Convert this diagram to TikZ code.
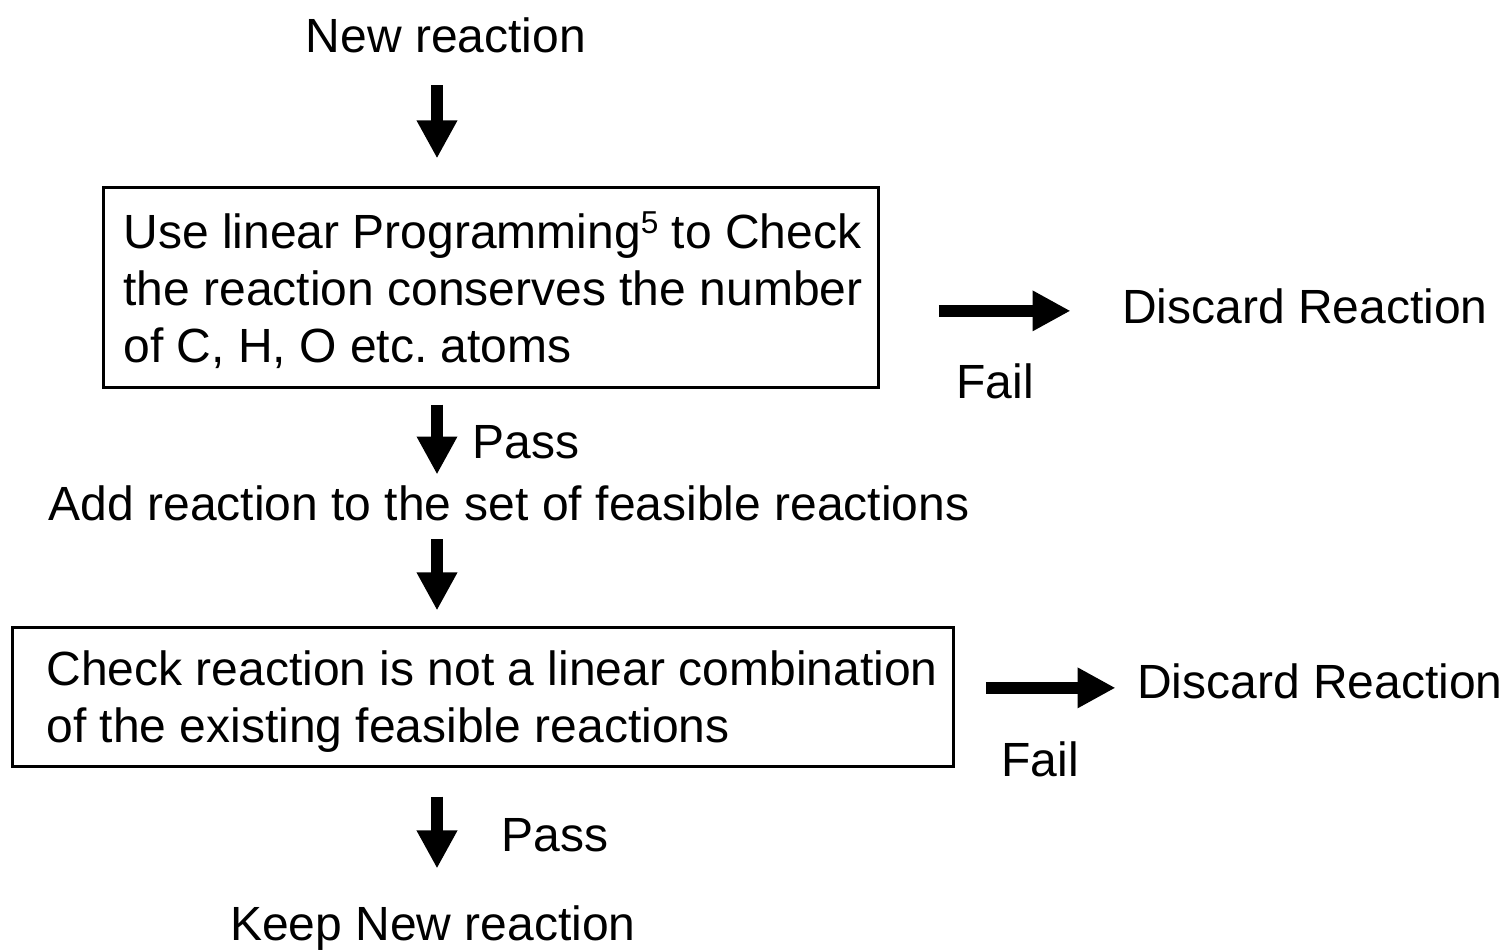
\documentclass[tikz,border=0pt]{standalone}
\usepackage{fontspec}
\setmainfont{Liberation Sans}
\usetikzlibrary{arrows.meta,calc}

\tikzset{
  txt/.style={inner sep=0pt},
  framebox/.style={draw, line width=0.03cm, inner sep=0pt},
  fatarrow/.style={line width=0.115cm, -{Triangle[width=0.38cm,length=0.38cm]}},
}
\newcommand{\refmark}[1]{\raisebox{0.3em}{\fontsize{9}{9}\selectfont #1}}

\begin{document}
\begin{tikzpicture}[x=0.01cm, y=-0.01cm, font=\fontsize{13.65}{16.2}\selectfont]
      \useasboundingbox (0,0) rectangle (1506,950);
      \coordinate (spine) at (437,0);
      \node[txt, anchor=base] (new) at (446,52) {New reaction};
      \node[framebox, minimum width=7.74cm, minimum height=1.99cm] (box1) at (491,287.5) {};
      \node[txt, align=left] (lp) at (493,290) {Use linear Programming\refmark{5} to Check\\the reaction conserves the number\\of C, H, O etc.\ atoms};
      \node[txt, anchor=base] (discard1) at (1305,323) {Discard Reaction};
      \node[txt, anchor=base] (fail1) at (995,398) {Fail};
      \node[txt, anchor=base] (pass1) at (526,458) {Pass};
      \node[txt, anchor=base] (add) at (509,520) {Add reaction to the set of feasible reactions};
      \node[framebox, minimum width=9.40cm, minimum height=1.38cm] (box2) at (483,697) {};
      \node[txt, align=left] (lc) at (492,701.5) {Check reaction is not a linear combination\\of the existing feasible reactions};
      \node[txt, anchor=base] (discard2) at (1320,698) {Discard Reaction};
      \node[txt, anchor=base] (fail2) at (1040,776) {Fail};
      \node[txt, anchor=base] (pass2) at (555,851) {Pass};
      \node[txt, anchor=base] (keep) at (433,940) {Keep New reaction};
      % arrows down
      \draw[fatarrow, shorten <=0.32cm, shorten >=0.28cm] (new.south -| spine) -- (box1.north -| spine);
      \draw[fatarrow, shorten <=0.16cm, shorten >=0.10cm] (box1.south -| spine) -- (add.north -| spine);
      \draw[fatarrow, shorten <=0.18cm, shorten >=0.16cm] (add.south -| spine) -- (box2.north -| spine);
      \draw[fatarrow, shorten <=0.29cm, shorten >=0.36cm] (box2.south -| spine) -- (keep.north -| spine);
      % fail arrows
      \draw[fatarrow, shorten <=0.59cm, shorten >=0.51cm] ($(box1.east |- discard1.center)+(0,5)$) -- ($(discard1.west)+(0,5)$);
      \draw[fatarrow, shorten <=0.31cm, shorten >=0.21cm] ($(box2.east |- discard2.center)+(0,7)$) -- ($(discard2.west)+(0,7)$);
\end{tikzpicture}
\end{document}
